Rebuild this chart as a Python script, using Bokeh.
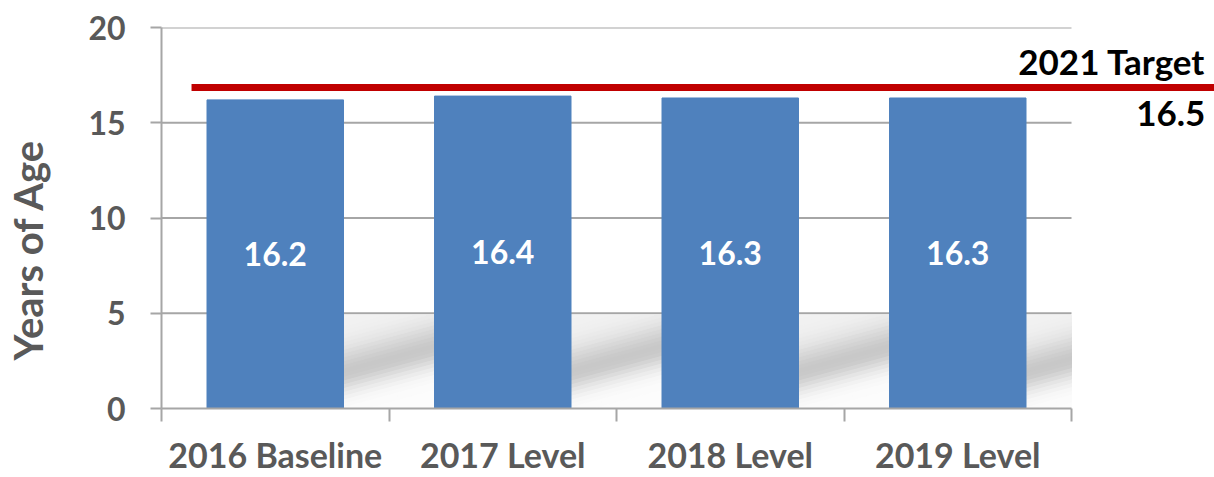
import math
from bokeh.plotting import figure
from bokeh.models import FixedTicker, Label, Range1d, ColumnDataSource, Title
from bokeh.core.properties import value
from bokeh.embed import file_html
from bokeh.resources import INLINE

# ---- data ----
categories = ["2016 Baseline", "2017 Level", "2018 Level", "2019 Level"]
ages = [16.2, 16.4, 16.3, 16.3]
bar_labels = ["16.2", "16.4", "16.3", "16.3"]
y_ticks = [0, 5, 10, 15, 20]
y_title = "Years of Age"
target_label = "2021 Target"
target_value_text = "16.5"
target_line_level = 16.85   # where the red line is drawn in the picture

# ---- styles ----
FONT = "Lato"
GREY_TEXT = "#595959"
GREY_LINE = "#A6A6A6"
BAR_BLUE = "#4F81BD"
RED = "#C00000"

n = len(categories)
centers = [i + 0.5 for i in range(n)]
bar_w = 0.6
frame_left, fig_w, fig_h = 161, 1214, 477
unit_px = 227.5
x_end = (fig_w - frame_left) / unit_px

p = figure(width=fig_w, height=fig_h, x_range=Range1d(0, x_end), y_range=Range1d(0, 20),
           output_backend="svg", toolbar_location=None,
           min_border_left=frame_left, min_border_right=0, min_border_top=27, min_border_bottom=68)
p.outline_line_color = None
p.xgrid.visible = False
p.ygrid.visible = False
p.background_fill_color = "white"
p.border_fill_color = "white"

# gridlines (at tick values, across the categories)
grid_levels = [t for t in y_ticks if t > 0]
p.segment(x0=[0] * len(grid_levels), x1=[n] * len(grid_levels), y0=grid_levels, y1=grid_levels,
          line_color=GREY_LINE, line_width=2)


# soft diagonal shadows in the gaps to the right of each bar
def clip_top(poly, top):
    out = []
    m = len(poly)
    for k in range(m):
        (xa_, ya_), (xb_, yb_) = poly[k], poly[(k + 1) % m]
        ina, inb = ya_ <= top, yb_ <= top
        if ina:
            out.append((xa_, ya_))
        if ina != inb:
            f = (top - ya_) / (yb_ - ya_)
            out.append((xa_ + f * (xb_ - xa_), top))
    return out


sh_xs, sh_ys, sh_col = [], [], []
top_lim = 4.88
for c in centers:
    xr = c + bar_w / 2
    xn = xr + (1 - bar_w)
    xe = min(xn, n)
    c0, c1 = 1.9, 3.2
    ce = c0 + (c1 - c0) * (xe - xr) / (xn - xr)
    dt = 0.2
    t = -4.0
    while t < 5.0:
        tm = t + dt / 2
        if tm >= 0:
            lvl = 200 + 42 * (1 - math.exp(-(tm / 1.3) ** 2))
        else:
            lvl = 200 + 52 * (1 - math.exp(-(tm / 1.0) ** 2))
        g = int(round(lvl))
        ov = 0.12
        poly = [(xr, c0 + t), (xe, ce + t), (xe, ce + t + dt + ov), (xr, c0 + t + dt + ov)]
        poly = clip_top(poly, top_lim)
        if len(poly) >= 3:
            sh_xs.append([q[0] for q in poly])
            sh_ys.append([q[1] for q in poly])
            sh_col.append("#%02x%02x%02x" % (g, g, g))
        t += dt

p.patches(xs="xs", ys="ys", fill_color="color", line_color="color", line_width=1,
          source=ColumnDataSource(dict(xs=sh_xs, ys=sh_ys, color=sh_col)))

p.vbar(x=centers, top=ages, width=bar_w, bottom=0, fill_color=BAR_BLUE, line_color=BAR_BLUE)

p.text(x=centers, y=[a / 2 for a in ages], text=bar_labels, text_color="white",
       text_font=value(FONT), text_font_style="bold", text_font_size="32px",
       text_align="center", text_baseline="middle")

# target line
p.segment(x0=[0.132], x1=[x_end + 0.1], y0=[target_line_level], y1=[target_line_level],
          line_color=RED, line_width=7)

p.add_layout(Label(x=x_end - 0.04, y=18.25, text=target_label, text_align="right",
                   text_baseline="middle", text_font=FONT, text_font_style="bold",
                   text_font_size="35px", text_color="black"))
p.add_layout(Label(x=x_end - 0.04, y=15.5, text=target_value_text, text_align="right",
                   text_baseline="middle", text_font=FONT, text_font_style="bold",
                   text_font_size="35px", text_color="black"))

# x axis
xa = p.xaxis[0]
xa.ticker = FixedTicker(ticks=centers, minor_ticks=list(range(n + 1)))
xa.major_label_overrides = {c: lab for c, lab in zip(centers, categories)}
xa.bounds = (0, n)
xa.axis_line_color = GREY_LINE
xa.axis_line_width = 2
xa.major_tick_line_color = None
xa.major_tick_out = 0
xa.major_tick_in = 0
xa.minor_tick_line_color = GREY_LINE
xa.minor_tick_line_width = 2
xa.minor_tick_out = 13
xa.minor_tick_in = 0
xa.major_label_standoff = 12
xa.major_label_text_font = FONT
xa.major_label_text_font_style = "bold"
xa.major_label_text_font_size = "34px"
xa.major_label_text_color = GREY_TEXT

# y axis
ya = p.yaxis[0]
ya.ticker = FixedTicker(ticks=y_ticks, minor_ticks=[])
ya.axis_line_color = GREY_LINE
ya.axis_line_width = 2
ya.major_tick_line_color = GREY_LINE
ya.major_tick_line_width = 2
ya.major_tick_out = 11
ya.major_tick_in = 0
ya.minor_tick_line_color = None
ya.major_label_standoff = 25
ya.major_label_text_font = FONT
ya.major_label_text_font_style = "bold"
ya.major_label_text_font_size = "32px"
ya.major_label_text_color = GREY_TEXT

# spacer between tick labels and the y title, then the title itself (outermost)
p.add_layout(Title(text=" ", standoff=8, text_font=FONT, text_font_size="20px",
                   text_color="white"), "left")
p.add_layout(Title(text=y_title, align="left", offset=48, standoff=0,
                   text_font=FONT, text_font_style="bold", text_font_size="40px",
                   text_color=GREY_TEXT), "left")

open("out.html", "w").write(file_html(p, INLINE))
